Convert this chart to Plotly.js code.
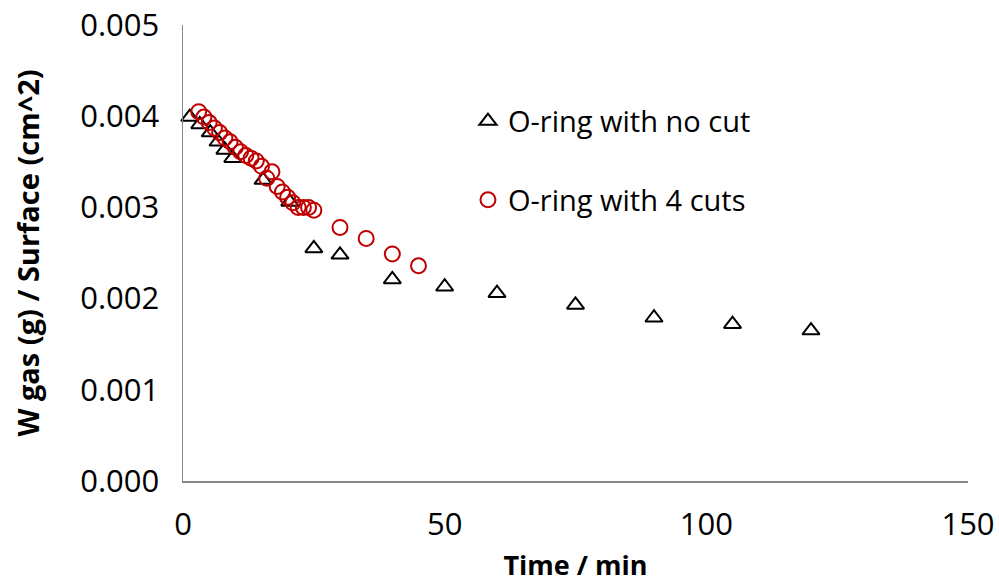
<!DOCTYPE html>
<html>
<head>
<meta charset="utf-8">
<script src="https://cdn.plot.ly/plotly-3.0.1.min.js"></script>
<style>html,body{margin:0;padding:0;background:#fff;}#chart{width:999px;height:586px;}</style>
</head>
<body>
<div id="chart"></div>
<script>
// Series: O-ring with no cut
const timeNoCut = [1.3, 3.2, 5.2, 6.7, 8.0, 9.5, 15.3, 20.4, 25, 30, 40, 50, 60, 75, 90, 105, 120];
const wNoCut = [0.00399, 0.00391, 0.00382, 0.00372, 0.00363, 0.00354, 0.00330, 0.00306, 0.00255, 0.00248, 0.00221, 0.00213, 0.00206, 0.00193, 0.00179, 0.00172, 0.00165];

// Series: O-ring with 4 cuts
const time4Cuts = [3, 4, 5, 6, 7, 8, 9, 10, 11, 12, 13, 14, 15, 16, 17, 18, 19, 20, 21, 22, 23, 24, 25, 30, 35, 40, 45];
const w4Cuts = [0.00405, 0.00399, 0.00393, 0.00387, 0.00382, 0.00376, 0.00372, 0.00366, 0.00361, 0.00357, 0.00354, 0.00351, 0.00345, 0.00332, 0.00339, 0.00323, 0.00317, 0.00311, 0.00305, 0.00300, 0.00300, 0.00300, 0.00297, 0.00278, 0.00266, 0.00249, 0.00236];

const seriesNames = ["O-ring with no cut", "O-ring with 4 cuts"];
const xTitle = "Time / min";
const yTitle = "W gas (g) / Surface (cm^2)";

const FONT = "Open Sans, Lato, sans-serif";

const traces = [
  {
    x: timeNoCut, y: wNoCut, name: seriesNames[0], type: "scatter", mode: "markers",
    legendgroup: "a", cliponaxis: false,
    marker: {symbol: "triangle-up-open", size: 15, color: "#000000", line: {width: 2, color: "#000000"}}
  },
  {
    x: time4Cuts, y: w4Cuts, name: seriesNames[1], type: "scatter", mode: "markers",
    legendgroup: "b", cliponaxis: false,
    marker: {symbol: "circle-open", size: 15, color: "#C00000", line: {width: 2, color: "#C00000"}}
  }
];

const layout = {
  width: 999, height: 586,
  margin: {l: 183, r: 31, t: 25, b: 105},
  paper_bgcolor: "#ffffff", plot_bgcolor: "#ffffff",
  font: {family: FONT, color: "#000000"},
  showlegend: true,
  legend: {
    x: 0.363, y: 0.845, xanchor: "left", yanchor: "top",
    font: {family: FONT, size: 29, color: "#000000"},
    bgcolor: "rgba(0,0,0,0)", traceorder: "grouped", tracegroupgap: 38
  },
  xaxis: {
    range: [0, 150], dtick: 50, tick0: 0,
    showgrid: false, zeroline: false,
    showline: true, linecolor: "#868686", linewidth: 1.5,
    ticks: "", ticklabelstandoff: 15,
    tickfont: {family: FONT, size: 31, color: "#000000"},
    title: {text: xTitle, font: {family: FONT, size: 27, color: "#000000", weight: "bold"}, standoff: 13}
  },
  yaxis: {
    range: [0, 0.005], dtick: 0.001, tick0: 0, tickformat: ".3f",
    showgrid: false, zeroline: false,
    showline: true, linecolor: "#868686", linewidth: 1.5,
    ticks: "", ticklabelstandoff: 16,
    tickfont: {family: FONT, size: 31, color: "#000000"},
    title: {text: yTitle, font: {family: FONT, size: 29, color: "#000000", weight: "bold"}, standoff: 32}
  }
};

Plotly.newPlot("chart", traces, layout, {displayModeBar: false, staticPlot: true});
</script>
</body>
</html>
